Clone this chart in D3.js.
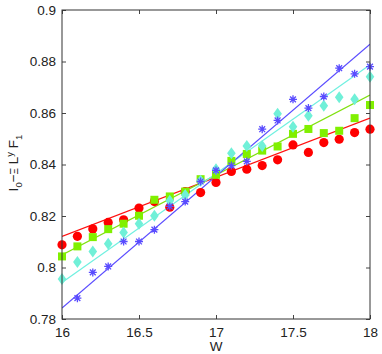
<!DOCTYPE html>
<html>
<head>
<meta charset="utf-8">
<script src="https://cdn.jsdelivr.net/npm/d3@7"></script>
<style>
  body { margin: 0; background: #fff; }
  text { font-family: "Liberation Sans", Arial, sans-serif; }
</style>
</head>
<body>
<div class="chart"></div>
<script>
var svgWidth = 382;
var svgHeight = 354;

var margin = {top: 10, right: 12, bottom: 35, left: 62};
var width = svgWidth - margin.left - margin.right;
var height = svgHeight - margin.top - margin.bottom;

// data
var wValues = [16, 16.1, 16.2, 16.3, 16.4, 16.5, 16.6, 16.7, 16.8, 16.9, 17,
               17.1, 17.2, 17.3, 17.4, 17.5, 17.6, 17.7, 17.8, 17.9, 18];

var redValues = [0.8088, 0.8121, 0.8150, 0.8175, 0.8185, 0.8231, 0.8256, 0.8234, 0.8295, 0.8291, 0.8330,
                 0.8373, 0.8382, 0.8396, 0.8418, 0.8476, 0.8447, 0.8485, 0.8498, 0.8524, 0.8537];
var greenValues = [0.8043, 0.8082, 0.8118, 0.8149, 0.8170, 0.8201, 0.8263, 0.8276, 0.8295, 0.8343, 0.8360,
                   0.8414, 0.8441, 0.8454, 0.8470, 0.8519, 0.8538, 0.8522, 0.8531, 0.8580, 0.8631];
var cyanValues = [0.7955, 0.8021, 0.8062, 0.8092, 0.8136, 0.8170, 0.8201, 0.8259, 0.8282, 0.8337, 0.8382,
                  0.8444, 0.8472, 0.8472, 0.8597, 0.8547, 0.8589, 0.8628, 0.8661, 0.8653, 0.8741];
// first blue point lies below the axis, so it starts at 16.1
var blueValues = [null, 0.7881, 0.7981, 0.8004, 0.8101, 0.8101, 0.8147, 0.8237, 0.8256, 0.8334, 0.8377,
                  0.8396, 0.8412, 0.8537, 0.8571, 0.8653, 0.8619, 0.8664, 0.8774, 0.8752, 0.8780];

// fitted lines: value at W=16 and W=18
var redFit = [0.8121, 0.8580];
var greenFit = [0.8049, 0.8670];
var cyanFit = [0.7942, 0.8787];
var blueFit = [0.7843, 0.8867];

var xTicks = [16, 16.5, 17, 17.5, 18];
var yTicks = [0.78, 0.8, 0.82, 0.84, 0.86, 0.88, 0.9];

var series = [
  {name: "red", values: redValues, fit: redFit, color: "#ff0000", line: "#ff1010", marker: "circle"},
  {name: "green", values: greenValues, fit: greenFit, color: "#80f000", line: "#80e010", marker: "square"},
  {name: "cyan", values: cyanValues, fit: cyanFit, color: "#70f0d8", line: "#70f0e0", marker: "diamond"},
  {name: "blue", values: blueValues, fit: blueFit, color: "#5a4cff", line: "#5a4cff", marker: "star"}
];

var svg = d3.select(".chart")
  .append("svg")
  .attr("width", svgWidth)
  .attr("height", svgHeight);

var chartGroup = svg.append("g")
  .attr("transform", `translate(${margin.left}, ${margin.top})`);

var x = d3.scaleLinear().domain([16, 18]).range([0, width]);
var y = d3.scaleLinear().domain([0.78, 0.9]).range([height, 0]);

// clip area
svg.append("defs").append("clipPath")
  .attr("id", "clip")
  .append("rect")
  .attr("width", width)
  .attr("height", height);

var plot = chartGroup.append("g").attr("clip-path", "url(#clip)");

// fit lines
series.forEach(function(s) {
  plot.append("line")
    .attr("x1", x(16)).attr("y1", y(s.fit[0]))
    .attr("x2", x(18)).attr("y2", y(s.fit[1]))
    .attr("stroke", s.line)
    .attr("stroke-width", 1.2);
});

// markers
series.forEach(function(s) {
  var pts = wValues.map(function(w, i) { return {w: w, v: s.values[i]}; })
    .filter(function(d) { return d.v != null; });
  var g = chartGroup.append("g");
  if (s.marker == "circle") {
    g.selectAll("circle").data(pts).enter().append("circle")
      .attr("cx", d => x(d.w)).attr("cy", d => y(d.v))
      .attr("r", 4.6)
      .attr("fill", s.color);
  } else if (s.marker == "square") {
    g.selectAll("rect").data(pts).enter().append("rect")
      .attr("x", d => x(d.w) - 4).attr("y", d => y(d.v) - 4)
      .attr("width", 8).attr("height", 8)
      .attr("fill", s.color);
  } else if (s.marker == "diamond") {
    g.selectAll("path").data(pts).enter().append("path")
      .attr("d", "M0,-6L4.3,0L0,6L-4.3,0Z")
      .attr("transform", d => `translate(${x(d.w)},${y(d.v)})`)
      .attr("fill", s.color);
  } else {
    g.selectAll("path").data(pts).enter().append("path")
      .attr("d", "M0,-4V4M-4,0H4M-2.9,-2.9L2.9,2.9M-2.9,2.9L2.9,-2.9")
      .attr("transform", d => `translate(${x(d.w)},${y(d.v)})`)
      .attr("stroke", s.color)
      .attr("stroke-width", 1.3)
      .attr("fill", "none");
  }
});

// axes, matlab style: ticks inside, box round
var tickLen = 4;
chartGroup.append("g")
  .attr("transform", `translate(0,${height})`)
  .call(d3.axisBottom(x).tickValues(xTicks).tickSizeInner(-tickLen).tickSizeOuter(0).tickPadding(8).tickFormat(d3.format("")))
  .call(g => g.select(".domain").remove());
chartGroup.append("g")
  .call(d3.axisLeft(y).tickValues(yTicks).tickSizeInner(-tickLen).tickSizeOuter(0).tickPadding(6).tickFormat(d => d3.format("")(+d.toFixed(2))))
  .call(g => g.select(".domain").remove());
chartGroup.append("g")
  .call(d3.axisTop(x).tickValues(xTicks).tickSizeInner(-tickLen).tickSizeOuter(0).tickFormat(""))
  .call(g => g.select(".domain").remove());
chartGroup.append("g")
  .attr("transform", `translate(${width},0)`)
  .call(d3.axisRight(y).tickValues(yTicks).tickSizeInner(-tickLen).tickSizeOuter(0).tickFormat(""))
  .call(g => g.select(".domain").remove());

chartGroup.selectAll(".tick line").attr("stroke", "#444");
chartGroup.selectAll(".tick text")
  .style("font-size", "13.5px")
  .style("font-family", "'Liberation Sans', Arial, sans-serif")
  .attr("fill", "#222");

chartGroup.append("rect")
  .attr("width", width).attr("height", height)
  .attr("fill", "none")
  .attr("stroke", "#333")
  .attr("stroke-width", 1);

// axis titles
svg.append("text")
  .attr("x", margin.left + width / 2)
  .attr("y", 351)
  .attr("text-anchor", "middle")
  .style("font-size", "13.5px")
  .attr("fill", "#222")
  .text("W");

var ylab = svg.append("text")
  .attr("transform", "translate(18,163) rotate(-90)")
  .attr("text-anchor", "middle")
  .style("font-size", "13.5px")
  .attr("fill", "#222");
ylab.append("tspan").text("I");
ylab.append("tspan").attr("dy", 4).style("font-size", "9.5px").text("0");
ylab.append("tspan").attr("dy", -4).text("\u2212");
ylab.append("tspan").style("font-size", "10px").text("\u039e");
ylab.append("tspan").text(" L");
ylab.append("tspan").attr("dy", -5).style("font-size", "9.5px").text("y");
ylab.append("tspan").attr("dy", 5).text(" F");
ylab.append("tspan").attr("dy", 4).style("font-size", "9.5px").text("1");
</script>
</body>
</html>
